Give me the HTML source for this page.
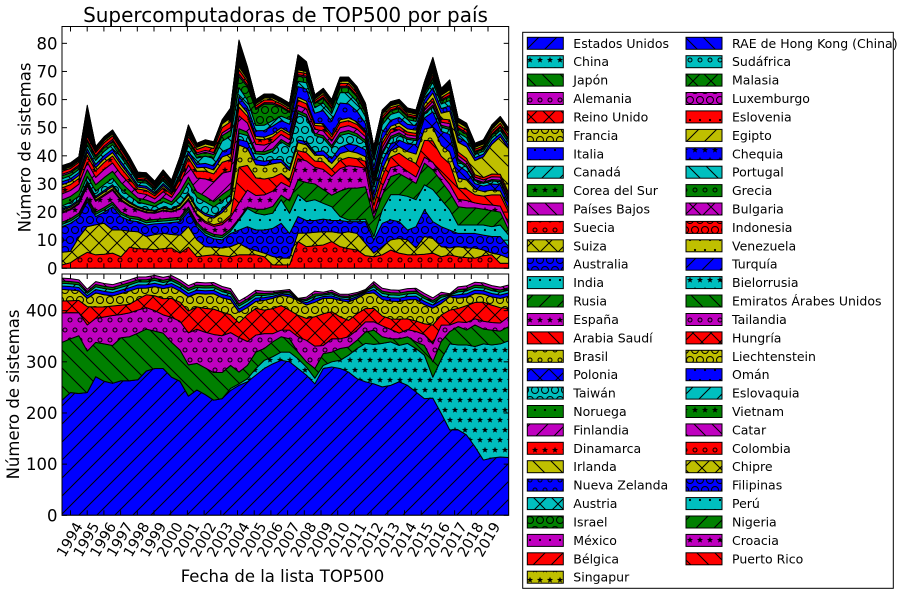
<!DOCTYPE html>
<html><head><meta charset="utf-8">
<style>
html,body{margin:0;padding:0;background:#fff;width:900px;height:594px;overflow:hidden}
svg{display:block;font-family:"DejaVu Sans","Liberation Sans",sans-serif}
</style></head><body>
<svg id="s" width="900" height="594" viewBox="0 0 900 594" xmlns="http://www.w3.org/2000/svg">
<defs id="defs">
<clipPath id="c1"><rect x="62" y="26.5" width="446.7" height="241.8"/></clipPath>
<clipPath id="c2"><rect x="62" y="274" width="446.7" height="241.3"/></clipPath>
</defs>
<rect width="900" height="594" fill="#fff"/>
<g id="top" clip-path="url(#c1)"></g>
<g id="bot" clip-path="url(#c2)"></g>
<g id="ax"></g>
<rect x="62" y="26.5" width="446.7" height="241.8" fill="none" stroke="#000" stroke-width="1"/>
<rect x="62" y="274" width="446.7" height="241.3" fill="none" stroke="#000" stroke-width="1"/>

<text x="285.5" y="22" font-size="20" text-anchor="middle">Supercomputadoras de TOP500 por país</text>

<g font-size="16.5" text-anchor="end">
<text x="57.5" y="274.3">0</text>
<text x="57.5" y="246.2">10</text>
<text x="57.5" y="218.1">20</text>
<text x="57.5" y="190.0">30</text>
<text x="57.5" y="161.8">40</text>
<text x="57.5" y="133.7">50</text>
<text x="57.5" y="105.6">60</text>
<text x="57.5" y="77.5">70</text>
<text x="57.5" y="49.3">80</text>
<text x="57.5" y="521.3">0</text>
<text x="57.5" y="470.1">100</text>
<text x="57.5" y="419.0">200</text>
<text x="57.5" y="367.8">300</text>
<text x="57.5" y="316.7">400</text>
</g>
<text transform="translate(25,147.5) rotate(-90)" font-size="16.5" text-anchor="middle" dominant-baseline="central">Número de sistemas</text>
<text transform="translate(13.5,394.5) rotate(-90)" font-size="16.5" text-anchor="middle" dominant-baseline="central">Número de sistemas</text>
<text x="282.5" y="582" font-size="16.5" text-anchor="middle">Fecha de la lista TOP500</text>

<g font-size="14.5" text-anchor="middle" dominant-baseline="central">
<text transform="translate(70.5,540) rotate(-60)">1994</text>
<text transform="translate(87.2,540) rotate(-60)">1995</text>
<text transform="translate(103.9,540) rotate(-60)">1996</text>
<text transform="translate(120.6,540) rotate(-60)">1997</text>
<text transform="translate(137.3,540) rotate(-60)">1998</text>
<text transform="translate(154.0,540) rotate(-60)">1999</text>
<text transform="translate(170.7,540) rotate(-60)">2000</text>
<text transform="translate(187.4,540) rotate(-60)">2001</text>
<text transform="translate(204.1,540) rotate(-60)">2002</text>
<text transform="translate(220.8,540) rotate(-60)">2003</text>
<text transform="translate(237.5,540) rotate(-60)">2004</text>
<text transform="translate(254.2,540) rotate(-60)">2005</text>
<text transform="translate(270.9,540) rotate(-60)">2006</text>
<text transform="translate(287.6,540) rotate(-60)">2007</text>
<text transform="translate(304.3,540) rotate(-60)">2008</text>
<text transform="translate(321.0,540) rotate(-60)">2009</text>
<text transform="translate(337.7,540) rotate(-60)">2010</text>
<text transform="translate(354.4,540) rotate(-60)">2011</text>
<text transform="translate(371.1,540) rotate(-60)">2012</text>
<text transform="translate(387.8,540) rotate(-60)">2013</text>
<text transform="translate(404.5,540) rotate(-60)">2014</text>
<text transform="translate(421.2,540) rotate(-60)">2015</text>
<text transform="translate(437.9,540) rotate(-60)">2016</text>
<text transform="translate(454.6,540) rotate(-60)">2017</text>
<text transform="translate(471.3,540) rotate(-60)">2018</text>
<text transform="translate(488.0,540) rotate(-60)">2019</text>
</g>

<rect x="522.7" y="32.3" width="370.6" height="556" fill="#fff" stroke="#000" stroke-width="1"/>
<g stroke="#000" stroke-width="1">
<rect x="527.3" y="37.3" width="36" height="12" fill="url(#p0) #0000ff"/>
<rect x="527.3" y="55.7" width="36" height="12" fill="url(#p1) #00bfbf"/>
<rect x="527.3" y="74.1" width="36" height="12" fill="url(#p2) #008000"/>
<rect x="527.3" y="92.5" width="36" height="12" fill="url(#p3) #bf00bf"/>
<rect x="527.3" y="110.9" width="36" height="12" fill="url(#p4) #ff0000"/>
<rect x="527.3" y="129.4" width="36" height="12" fill="url(#p5) #bfbf00"/>
<rect x="527.3" y="147.8" width="36" height="12" fill="url(#p6) #0000ff"/>
<rect x="527.3" y="166.2" width="36" height="12" fill="url(#p7) #00bfbf"/>
<rect x="527.3" y="184.6" width="36" height="12" fill="url(#p8) #008000"/>
<rect x="527.3" y="203.0" width="36" height="12" fill="url(#p9) #bf00bf"/>
<rect x="527.3" y="221.4" width="36" height="12" fill="url(#p10) #ff0000"/>
<rect x="527.3" y="239.8" width="36" height="12" fill="url(#p11) #bfbf00"/>
<rect x="527.3" y="258.2" width="36" height="12" fill="url(#p12) #0000ff"/>
<rect x="527.3" y="276.6" width="36" height="12" fill="url(#p13) #00bfbf"/>
<rect x="527.3" y="295.0" width="36" height="12" fill="url(#p14) #008000"/>
<rect x="527.3" y="313.5" width="36" height="12" fill="url(#p15) #bf00bf"/>
<rect x="527.3" y="331.9" width="36" height="12" fill="url(#p16) #ff0000"/>
<rect x="527.3" y="350.3" width="36" height="12" fill="url(#p17) #bfbf00"/>
<rect x="527.3" y="368.7" width="36" height="12" fill="url(#p18) #0000ff"/>
<rect x="527.3" y="387.1" width="36" height="12" fill="url(#p19) #00bfbf"/>
<rect x="527.3" y="405.5" width="36" height="12" fill="url(#p20) #008000"/>
<rect x="527.3" y="423.9" width="36" height="12" fill="url(#p21) #bf00bf"/>
<rect x="527.3" y="442.3" width="36" height="12" fill="url(#p22) #ff0000"/>
<rect x="527.3" y="460.7" width="36" height="12" fill="url(#p23) #bfbf00"/>
<rect x="527.3" y="479.1" width="36" height="12" fill="url(#p24) #0000ff"/>
<rect x="527.3" y="497.6" width="36" height="12" fill="url(#p25) #00bfbf"/>
<rect x="527.3" y="516.0" width="36" height="12" fill="url(#p26) #008000"/>
<rect x="527.3" y="534.4" width="36" height="12" fill="url(#p27) #bf00bf"/>
<rect x="527.3" y="552.8" width="36" height="12" fill="url(#p28) #ff0000"/>
<rect x="527.3" y="571.2" width="36" height="12" fill="url(#p29) #bfbf00"/>
<rect x="686" y="37.3" width="36" height="12" fill="url(#p30) #0000ff"/>
<rect x="686" y="55.7" width="36" height="12" fill="url(#p31) #00bfbf"/>
<rect x="686" y="74.1" width="36" height="12" fill="url(#p32) #008000"/>
<rect x="686" y="92.5" width="36" height="12" fill="url(#p33) #bf00bf"/>
<rect x="686" y="110.9" width="36" height="12" fill="url(#p34) #ff0000"/>
<rect x="686" y="129.4" width="36" height="12" fill="url(#p35) #bfbf00"/>
<rect x="686" y="147.8" width="36" height="12" fill="url(#p36) #0000ff"/>
<rect x="686" y="166.2" width="36" height="12" fill="url(#p37) #00bfbf"/>
<rect x="686" y="184.6" width="36" height="12" fill="url(#p38) #008000"/>
<rect x="686" y="203.0" width="36" height="12" fill="url(#p39) #bf00bf"/>
<rect x="686" y="221.4" width="36" height="12" fill="url(#p40) #ff0000"/>
<rect x="686" y="239.8" width="36" height="12" fill="url(#p41) #bfbf00"/>
<rect x="686" y="258.2" width="36" height="12" fill="url(#p42) #0000ff"/>
<rect x="686" y="276.6" width="36" height="12" fill="url(#p43) #00bfbf"/>
<rect x="686" y="295.0" width="36" height="12" fill="url(#p44) #008000"/>
<rect x="686" y="313.5" width="36" height="12" fill="url(#p45) #bf00bf"/>
<rect x="686" y="331.9" width="36" height="12" fill="url(#p46) #ff0000"/>
<rect x="686" y="350.3" width="36" height="12" fill="url(#p47) #bfbf00"/>
<rect x="686" y="368.7" width="36" height="12" fill="url(#p48) #0000ff"/>
<rect x="686" y="387.1" width="36" height="12" fill="url(#p49) #00bfbf"/>
<rect x="686" y="405.5" width="36" height="12" fill="url(#p50) #008000"/>
<rect x="686" y="423.9" width="36" height="12" fill="url(#p51) #bf00bf"/>
<rect x="686" y="442.3" width="36" height="12" fill="url(#p52) #ff0000"/>
<rect x="686" y="460.7" width="36" height="12" fill="url(#p53) #bfbf00"/>
<rect x="686" y="479.1" width="36" height="12" fill="url(#p54) #0000ff"/>
<rect x="686" y="497.6" width="36" height="12" fill="url(#p55) #00bfbf"/>
<rect x="686" y="516.0" width="36" height="12" fill="url(#p56) #008000"/>
<rect x="686" y="534.4" width="36" height="12" fill="url(#p57) #bf00bf"/>
<rect x="686" y="552.8" width="36" height="12" fill="url(#p58) #ff0000"/>
</g>
<g font-size="12.5">
<text x="573.3" y="47.8">Estados Unidos</text>
<text x="573.3" y="66.2">China</text>
<text x="573.3" y="84.6">Japón</text>
<text x="573.3" y="103.0">Alemania</text>
<text x="573.3" y="121.4">Reino Unido</text>
<text x="573.3" y="139.9">Francia</text>
<text x="573.3" y="158.3">Italia</text>
<text x="573.3" y="176.7">Canadá</text>
<text x="573.3" y="195.1">Corea del Sur</text>
<text x="573.3" y="213.5">Países Bajos</text>
<text x="573.3" y="231.9">Suecia</text>
<text x="573.3" y="250.3">Suiza</text>
<text x="573.3" y="268.7">Australia</text>
<text x="573.3" y="287.1">India</text>
<text x="573.3" y="305.5">Rusia</text>
<text x="573.3" y="324.0">España</text>
<text x="573.3" y="342.4">Arabia Saudí</text>
<text x="573.3" y="360.8">Brasil</text>
<text x="573.3" y="379.2">Polonia</text>
<text x="573.3" y="397.6">Taiwán</text>
<text x="573.3" y="416.0">Noruega</text>
<text x="573.3" y="434.4">Finlandia</text>
<text x="573.3" y="452.8">Dinamarca</text>
<text x="573.3" y="471.2">Irlanda</text>
<text x="573.3" y="489.6">Nueva Zelanda</text>
<text x="573.3" y="508.1">Austria</text>
<text x="573.3" y="526.5">Israel</text>
<text x="573.3" y="544.9">México</text>
<text x="573.3" y="563.3">Bélgica</text>
<text x="573.3" y="581.7">Singapur</text>
<text x="732" y="47.8">RAE de Hong Kong (China)</text>
<text x="732" y="66.2">Sudáfrica</text>
<text x="732" y="84.6">Malasia</text>
<text x="732" y="103.0">Luxemburgo</text>
<text x="732" y="121.4">Eslovenia</text>
<text x="732" y="139.9">Egipto</text>
<text x="732" y="158.3">Chequia</text>
<text x="732" y="176.7">Portugal</text>
<text x="732" y="195.1">Grecia</text>
<text x="732" y="213.5">Bulgaria</text>
<text x="732" y="231.9">Indonesia</text>
<text x="732" y="250.3">Venezuela</text>
<text x="732" y="268.7">Turquía</text>
<text x="732" y="287.1">Bielorrusia</text>
<text x="732" y="305.5">Emiratos Árabes Unidos</text>
<text x="732" y="324.0">Tailandia</text>
<text x="732" y="342.4">Hungría</text>
<text x="732" y="360.8">Liechtenstein</text>
<text x="732" y="379.2">Omán</text>
<text x="732" y="397.6">Eslovaquia</text>
<text x="732" y="416.0">Vietnam</text>
<text x="732" y="434.4">Catar</text>
<text x="732" y="452.8">Colombia</text>
<text x="732" y="471.2">Chipre</text>
<text x="732" y="489.6">Filipinas</text>
<text x="732" y="508.1">Perú</text>
<text x="732" y="526.5">Nigeria</text>
<text x="732" y="544.9">Croacia</text>
<text x="732" y="563.3">Puerto Rico</text>
</g>
</svg>
<script>
(function(){
var N=54,X0=62,DX=446.7/53;
function xs(i){return X0+i*DX;}
var COLS=['#0000ff','#00bfbf','#008000','#bf00bf','#ff0000','#bfbf00'];
var H=['/','*','\\','o','x','O','.'];
function star(cx,cy,r){var p=[];for(var k=0;k<10;k++){var a=-Math.PI/2+k*Math.PI/5;var rr=(k%2)?r*0.42:r;p.push((cx+rr*Math.cos(a)).toFixed(2)+','+(cy+rr*Math.sin(a)).toFixed(2));}return '<polygon points="'+p.join(' ')+'" fill="#000"/>';}
function pat(n){
  var c=COLS[n%6],h=H[n%7],w,ht,s='';
  var L=' stroke="#000" stroke-width="1" fill="none"';
  if(h=='/'||h=='\\'||h=='x'){
    w=ht=18;
    var ne='M-3,3 L3,-3 M0,18 L18,0 M15,21 L21,15';
    var nw='M-3,15 L3,21 M0,0 L18,18 M15,-3 L21,3';
    s='<path d="'+(h=='/'?ne:(h=='\\'?nw:ne+' '+nw))+'"'+L+'/>';
  } else {
    w=10;ht=20;
    var pts=[[0,0],[10,0],[5,10],[0,20],[10,20]];
    for(var k=0;k<pts.length;k++){
      var x=pts[k][0],y=pts[k][1];
      if(h=='o') s+='<circle cx="'+x+'" cy="'+y+'" r="2"'+L+'/>';
      else if(h=='O') s+='<circle cx="'+x+'" cy="'+y+'" r="3.5"'+L+'/>';
      else if(h=='.') s+='<circle cx="'+x+'" cy="'+y+'" r="1.1" fill="#000"/>';
      else s+=star(x,y,3.3);
    }
  }
  return '<pattern id="p'+n+'" patternUnits="userSpaceOnUse" width="'+w+'" height="'+ht+'"><rect width="'+w+'" height="'+ht+'" fill="'+c+'"/>'+s+'</pattern>';
}
var defs='';for(var n=0;n<59;n++)defs+=pat(n);
document.getElementById('defs').insertAdjacentHTML('beforeend',defs);

function interp(an){var o=[];for(var i=0;i<N;i++){var v;if(i<=an[0][0])v=an[0][1];else if(i>=an[an.length-1][0])v=an[an.length-1][1];else{for(var k=0;k<an.length-1;k++){if(i>=an[k][0]&&i<=an[k+1][0]){v=an[k][1]+(an[k+1][1]-an[k][1])*(i-an[k][0])/(an[k+1][0]-an[k][0]);break;}}}o.push(v);}return o;}
function pathFor(lo,up,ym,n){var d='M'+xs(0).toFixed(2)+','+ym(up[0]).toFixed(2);var i;for(i=1;i<N;i++)d+='L'+xs(i).toFixed(2)+','+ym(up[i]).toFixed(2);for(i=N-1;i>=0;i--)d+='L'+xs(i).toFixed(2)+','+ym(lo[i]).toFixed(2);return '<path d="'+d+'Z" fill="url(#p'+n+')" stroke="#000" stroke-width="1" stroke-linejoin="round"/>';}

var Ttop=[36.5,37.5,39.7,58,43.3,46.8,49.2,44.5,39.7,34.2,34,31,35,31.4,39.7,51,44.5,45.7,45,52.8,57,81.2,71.7,60,62,62,60.5,58.7,76,73.5,61.7,64,60,68,68,64.6,58.7,43.3,56.3,59.3,60.1,57,56.3,66.3,75,64,67,53.4,51.6,44.5,45.7,51,54,49.8];

/* ---------- bottom panel ---------- */
var US=[225,240,238,240,271,262,258,263,263,265,282,287,287,270,262,233,245,236,225,228,244,254,261,274,287,296,303,300,287,274,257,287,290,287,280,267,261,257,251,254,261,254,241,228,229,199,167,167,157,134,108,112,114,113];
var CNr=[248,257,267,287,303,310,319,319,306,290,268,293,300,303,313,326,336,334,336,339,332,336,326,313,270,305,335,333,333,330,335,333,335,341];
var JP=[338,345,351,321,338,335,332,347,349,356,364,360,356,338,323,294,297,288,279,279,293,280,293,319,326,339,349,345,319,300,287,316,319,326,329,342,358,362,349,345,345,349,339,332,300,340,359,369,362,372,364,362,360,369];
var DE=[395,396,396,372,384,387,390,392,395,400,406,398,390,382,375,351,359,352,346,345,355,345,339,352,355,355,362,362,349,342,329,332,345,345,349,362,378,375,368,362,355,360,355,350,335,370,372,378,375,380,375,373,372,385];
var UK=[418,419,420,408,405,406,408,410,411,420,431,425,420,414,408,388,398,393,388,385,388,371,391,404,401,404,410,401,391,385,385,394,398,388,381,394,404,398,385,381,381,378,371,368,372,388,401,404,406,408,408,403,398,398];
var FR=[440,440,439,424,431,429,427,432,436,440,444,440,437,430,424,408,418,413,408,405,414,388,404,417,420,424,430,427,420,411,411,424,424,420,417,424,433,424,414,414,414,411,407,401,405,408,427,424,420,420,418,414,411,418];
var bb=[];for(var k=0;k<11;k++)bb.push([]);
for(var i=0;i<N;i++){
  var Tb=500-Ttop[i];
  var us=US[i],cn=(i<20?US[i]:CNr[i-20]),jp=JP[i],de=DE[i],uk=UK[i],f=FR[i];
  var gap=Tb-f;
  if(gap>22){var d=gap-22;f+=d;uk+=d*0.6;de+=d*0.3;}
  cn=Math.max(cn,us);jp=Math.max(jp,cn+3);de=Math.max(de,jp+3);uk=Math.max(uk,de+3);f=Math.max(f,uk+3);
  if(Tb-f<4)f=Tb-4;
  var g=Tb-f;
  var it=f+g*0.3,ca=it+g*0.25,kr=ca+g*0.2;
  var arr=[0,us,cn,jp,de,uk,f,it,ca,kr,Tb];
  for(var k=0;k<11;k++)bb[k].push(arr[k]);
}
var yb=function(v){return 515.3-v*0.5116;};
var sb='';for(var k=0;k<10;k++)sb+=pathFor(bb[k],bb[k+1],yb,k);
document.getElementById('bot').insertAdjacentHTML('beforeend',sb);

/* ---------- top panel ---------- */
var B1=[1.2,2,4,5.7,4.8,5,5.4,4.1,7.5,7,6.9,6.6,7,7.2,5.4,7.5,4.1,4.5,4.8,4.5,4.1,4.8,4.8,4.8,4.1,1.2,1.2,1.2,9.5,7.7,8,8.3,9.5,7.7,7,6.5,4.5,4.1,4.8,6.5,5.4,4.8,4.8,5,5.4,4.1,4.8,4.1,3.8,3.6,4.5,4.8,1.8,1.8];
var B2=[5.7,6,11,14.8,15.5,16,13.6,13.6,13.2,13,11.3,12,12.4,12,11.8,14.8,10.1,7.7,7.5,7.2,7.7,8.9,7.2,6.3,5.4,4.2,3.6,3.6,12.5,12.5,12.8,13,13,12.5,13,12.4,8.9,5.4,7.7,10.1,10.6,10.1,7.2,11.3,10.6,7.7,7.2,7.7,7.2,7.2,6.5,5.4,4.8,3.6];
var B3=[14.8,16,18,23.7,18.4,20,21.9,18.4,17,16.6,15.4,15.8,16,16.3,16.6,20.2,14.8,11.8,10.5,10.1,12.4,13.6,14.8,13.6,13.6,14.2,16,12.4,18.4,17,17,17.5,17,17,16.6,16.6,16.6,10.1,16,17.2,16.6,13.6,14.8,20.8,16.6,14.8,13.6,12.4,12.4,12.4,11.8,11.3,11.3,7.7];
var B4r=[17.2,21.3,19.6,19.0,19.6,24.4,19.6,26.2,23.7,24.4,23.1,21.9,18.4,17.2,17.2,17.5,11.3,20.8,26.2,26.2,25.6,24.4,29.7,28.0,24.4,20.8,15.4,15.4,15.4,15.4,14.8,15.4,11.8];
var B5r=[17.7,21.8,21,21,22,26,24,31.4,30.5,30,28,26,27.5,28.5,28.5,29,17.8,26,32.6,33.7,32,30.2,37.4,35,31,27,21.9,21.5,21.5,21,20.5,20,13.6];
var B4=[],B5=[];
for(var i=0;i<N;i++){
  var b1=B1[i],b2=Math.max(B2[i],b1+0.3),b3=Math.max(B3[i],b2+0.3);
  var b4=(i<21?b3+0.8:Math.max(B4r[i-21],b3+0.3));
  var b5=(i<21?b4+0.8:Math.max(B5r[i-21],b4+0.3));
  B1[i]=b1;B2[i]=b2;B3[i]=b3;B4.push(b4);B5.push(b5);
}
var A={15:[[0,3],[13,4],[15,2],[20,2],[22,5],[27,6],[28,8],[36,8],[37,2],[39,4],[44,3],[53,2]],
16:[[0,0.4],[20,0.4],[21,8],[24,6],[27,3],[36,3],[38,4],[42,7],[43,9],[46,7],[47,4],[53,4]],
17:[[0,0.5],[14,1],[20,2],[21,5],[26,5],[28,3],[36,2],[40,3],[43,6],[46,4],[53,1]],
18:[[0,0.5],[20,0.5],[22,2],[28,1],[36,3],[40,3],[43,6],[46,6],[48,3],[53,2]],
19:[[0,1],[14,3],[17,3],[20,1],[25,3],[26,8],[28,10],[30,8],[31,5],[36,3],[43,2],[53,1]],
20:[[0,2],[13,2],[20,1],[36,1],[53,0.5]],
21:[[0,2],[14,3],[18,5],[20,3],[28,2],[53,1]],
22:[[0,2],[13,2],[20,2],[28,2],[53,1]],
23:[[0,1],[36,1],[44,2],[48,4],[50,10],[53,15]],
24:[[0,1],[20,1],[28,4],[33,6],[36,3],[53,1]],
25:[[0,1],[20,2],[28,2],[34,4],[36,3],[53,1]],
26:[[0,1],[20,1],[22,4],[24,8],[26,4],[28,2],[53,1]],
27:[[0,0.5],[53,0.5]],
28:[[0,1],[53,1]],
29:[[0,0.5],[53,1]]};
var W={};for(var n=15;n<=29;n++)W[n]=interp(A[n]);
var boost={3:9,15:2,20:2,21:8,22:3,28:4,29:2,43:1,44:4,45:1,46:2};
var tb=[[],B1,B2,B3,B4,B5];for(var i=0;i<N;i++)tb[0].push(0);
var cum=[];for(var n=15;n<=58;n++)cum.push([]);
for(var i=0;i<N;i++){
  var R=Ttop[i]-B5[i];
  var restEach=0.05+(boost[i]||0)/29;
  var restT=restEach*29;
  var raw=0;for(var n=15;n<=29;n++)raw+=W[n][i];
  var sc=Math.max(0,(R-restT))/raw;
  var acc=B5[i];
  for(var n=15;n<=58;n++){
    var w=(n<=29)?W[n][i]*sc:restEach;
    acc+=w;cum[n-15].push(acc);
  }
  var fix=Ttop[i]-acc;cum[43][i]+=fix;
}
for(var n=0;n<44;n++)tb.push(cum[n]);
var yt=function(v){return 268.3-v*2.812;};
var st='';for(var k=0;k<tb.length-1;k++)st+=pathFor(tb[k],tb[k+1],yt,10+k);
document.getElementById('top').insertAdjacentHTML('beforeend',st);

/* ---------- ticks ---------- */
var t='';
function ln(x1,y1,x2,y2){return '<line x1="'+x1.toFixed(2)+'" y1="'+y1.toFixed(2)+'" x2="'+x2.toFixed(2)+'" y2="'+y2.toFixed(2)+'" stroke="#000" stroke-width="1"/>';}
for(var v=0;v<=80;v+=10){var y=yt(v);t+=ln(62,y,67,y)+ln(508.7,y,503.7,y);}
for(var v=0;v<=400;v+=100){var y=yb(v);t+=ln(62,y,67,y)+ln(508.7,y,503.7,y);}
for(var k=0;k<26;k++){var x=70.5+16.7*k;t+=ln(x,26.5,x,31.5)+ln(x,268.3,x,263.3)+ln(x,274,x,279)+ln(x,515.3,x,510.3);}
document.getElementById('ax').insertAdjacentHTML('beforeend',t);
})();
</script>
</body></html>
